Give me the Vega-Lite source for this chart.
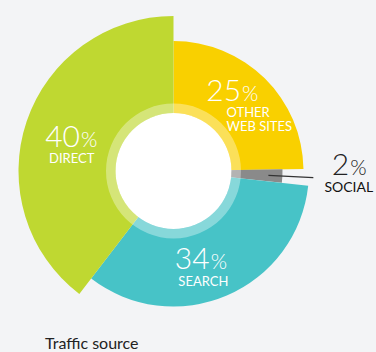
{
  "$schema": "https://vega.github.io/schema/vega-lite/v6.json",
  "width": 347,
  "height": 342,
  "autosize": {"type": "none"},
  "padding": {"left": 0, "top": 0, "right": 29, "bottom": 10},
  "background": "#F3F4F6",
  "config": {"view": {"stroke": null}},
  "title": {
    "text": "Traffic source",
    "orient": "bottom",
    "anchor": "start",
    "frame": "group",
    "baseline": "alphabetic",
    "offset": 1,
    "dx": 45,
    "font": "Lato",
    "fontSize": 16,
    "fontWeight": 400,
    "color": "#222222"
  },
  "data": {
    "values": [
      {"key": "other", "source": "Other web sites", "rank": 1, "value": 25, "name": "OTHER\nWEB SITES"},
      {"key": "social", "source": "Social", "rank": 2, "value": 2, "name": "SOCIAL"},
      {"key": "search", "source": "Search", "rank": 3, "value": 34, "name": "SEARCH"},
      {"key": "direct", "source": "Direct", "rank": 4, "value": 40, "name": "DIRECT"}
    ]
  },
  "layer": [
    {
      "mark": {"type": "arc", "innerRadius": 50},
      "encoding": {
        "theta": {"field": "value", "type": "quantitative", "stack": true},
        "order": {"field": "rank", "type": "quantitative"},
        "radius": {"field": "value", "type": "quantitative", "scale": {"type": "linear", "zero": false, "domain": [2, 25, 34, 40], "range": [109, 130, 135.5, 155]}},
        "color": {"field": "source", "type": "nominal", "legend": null,
          "scale": {"domain": ["Other web sites", "Social", "Search", "Direct"], "range": ["#F9D000", "#8A8A8A", "#47C3C7", "#BFD831"]}}
      }
    },
    {
      "data": {"values": [{}]},
      "mark": {"type": "arc", "theta": 0, "theta2": 6.2832, "radius": 67.5, "radius2": 58, "color": "#FFFFFF", "opacity": 0.35},
      "encoding": {}
    },
    {
      "data": {"values": [{}]},
      "mark": {"type": "arc", "theta": 0, "theta2": 6.2832, "radius": 58, "radius2": 0, "color": "#FFFFFF", "opacity": 1},
      "encoding": {}
    },
    {
      "mark": {"type": "arc", "radius": 140, "radius2": 95, "padAngle": 1, "fill": "transparent", "stroke": "#333333", "strokeWidth": 1.2},
      "encoding": {
        "theta": {"field": "value", "type": "quantitative", "stack": true},
        "order": {"field": "rank", "type": "quantitative"},
        "detail": {"field": "key"},
        "strokeOpacity": {"condition": {"test": {"field": "key", "equal": "social"}, "value": 1}, "value": 0}
      }
    },
    {
      "mark": {"type": "text", "radius": 100, "align": "right", "baseline": "alphabetic", "dx": -2.6, "dy": 1, "font": "Lato", "fontSize": 30, "fontWeight": 300, "color": "#FFFFFF"},
      "encoding": {
        "theta": {"field": "value", "type": "quantitative", "stack": true},
        "order": {"field": "rank", "type": "quantitative"},
        "detail": {"field": "key"},
        "text": {"condition": {"test": {"field": "key", "equal": "other"}, "field": "value", "type": "quantitative"}, "value": ""}
      }
    },
    {
      "mark": {"type": "text", "radius": 100, "align": "left", "baseline": "alphabetic", "dx": -1.6, "dy": 1, "font": "Lato", "fontSize": 21, "fontWeight": 300, "color": "#FFFFFF"},
      "encoding": {
        "theta": {"field": "value", "type": "quantitative", "stack": true},
        "order": {"field": "rank", "type": "quantitative"},
        "detail": {"field": "key"},
        "text": {"condition": {"test": {"field": "key", "equal": "other"}, "value": "%"}, "value": ""}
      }
    },
    {
      "mark": {"type": "text", "radius": 100, "align": "left", "baseline": "alphabetic", "dx": -17.2, "dy": 17.4, "lineBreak": "\n", "lineHeight": 13.8, "font": "Lato", "fontSize": 13, "fontWeight": 400, "color": "#FFFFFF"},
      "encoding": {
        "theta": {"field": "value", "type": "quantitative", "stack": true},
        "order": {"field": "rank", "type": "quantitative"},
        "detail": {"field": "key"},
        "text": {"condition": {"test": {"field": "key", "equal": "other"}, "field": "name", "type": "nominal"}, "value": ""}
      }
    },
    {
      "mark": {"type": "text", "radius": 100, "align": "right", "baseline": "alphabetic", "dx": -3.2, "dy": 6.4, "font": "Lato", "fontSize": 30, "fontWeight": 300, "color": "#FFFFFF"},
      "encoding": {
        "theta": {"field": "value", "type": "quantitative", "stack": true},
        "order": {"field": "rank", "type": "quantitative"},
        "detail": {"field": "key"},
        "text": {"condition": {"test": {"field": "key", "equal": "search"}, "field": "value", "type": "quantitative"}, "value": ""}
      }
    },
    {
      "mark": {"type": "text", "radius": 100, "align": "left", "baseline": "alphabetic", "dx": -2.2, "dy": 6.4, "font": "Lato", "fontSize": 21, "fontWeight": 300, "color": "#FFFFFF"},
      "encoding": {
        "theta": {"field": "value", "type": "quantitative", "stack": true},
        "order": {"field": "rank", "type": "quantitative"},
        "detail": {"field": "key"},
        "text": {"condition": {"test": {"field": "key", "equal": "search"}, "value": "%"}, "value": ""}
      }
    },
    {
      "mark": {"type": "text", "radius": 100, "align": "center", "baseline": "alphabetic", "dx": -9.5, "dy": 23.1, "font": "Lato", "fontSize": 13, "fontWeight": 400, "color": "#FFFFFF"},
      "encoding": {
        "theta": {"field": "value", "type": "quantitative", "stack": true},
        "order": {"field": "rank", "type": "quantitative"},
        "detail": {"field": "key"},
        "text": {"condition": {"test": {"field": "key", "equal": "search"}, "field": "name", "type": "nominal"}, "value": ""}
      }
    },
    {
      "mark": {"type": "text", "radius": 100, "align": "right", "baseline": "alphabetic", "dx": 1.2, "dy": 7.6, "font": "Lato", "fontSize": 30, "fontWeight": 300, "color": "#FFFFFF"},
      "encoding": {
        "theta": {"field": "value", "type": "quantitative", "stack": true},
        "order": {"field": "rank", "type": "quantitative"},
        "detail": {"field": "key"},
        "text": {"condition": {"test": {"field": "key", "equal": "direct"}, "field": "value", "type": "quantitative"}, "value": ""}
      }
    },
    {
      "mark": {"type": "text", "radius": 100, "align": "left", "baseline": "alphabetic", "dx": 2.2, "dy": 7.6, "font": "Lato", "fontSize": 21, "fontWeight": 300, "color": "#FFFFFF"},
      "encoding": {
        "theta": {"field": "value", "type": "quantitative", "stack": true},
        "order": {"field": "rank", "type": "quantitative"},
        "detail": {"field": "key"},
        "text": {"condition": {"test": {"field": "key", "equal": "direct"}, "value": "%"}, "value": ""}
      }
    },
    {
      "mark": {"type": "text", "radius": 100, "align": "center", "baseline": "alphabetic", "dx": -7.1, "dy": 24.4, "font": "Lato", "fontSize": 13, "fontWeight": 400, "color": "#FFFFFF"},
      "encoding": {
        "theta": {"field": "value", "type": "quantitative", "stack": true},
        "order": {"field": "rank", "type": "quantitative"},
        "detail": {"field": "key"},
        "text": {"condition": {"test": {"field": "key", "equal": "direct"}, "field": "name", "type": "nominal"}, "value": ""}
      }
    },
    {
      "mark": {"type": "text", "radius": 176, "align": "right", "baseline": "alphabetic", "dx": -0.1, "dy": -4.2, "font": "Lato", "fontSize": 30, "fontWeight": 300, "color": "#222222"},
      "encoding": {
        "theta": {"field": "value", "type": "quantitative", "stack": true},
        "order": {"field": "rank", "type": "quantitative"},
        "detail": {"field": "key"},
        "text": {"condition": {"test": {"field": "key", "equal": "social"}, "field": "value", "type": "quantitative"}, "value": ""}
      }
    },
    {
      "mark": {"type": "text", "radius": 176, "align": "left", "baseline": "alphabetic", "dx": 0.9, "dy": -4.2, "font": "Lato", "fontSize": 21, "fontWeight": 300, "color": "#222222"},
      "encoding": {
        "theta": {"field": "value", "type": "quantitative", "stack": true},
        "order": {"field": "rank", "type": "quantitative"},
        "detail": {"field": "key"},
        "text": {"condition": {"test": {"field": "key", "equal": "social"}, "value": "%"}, "value": ""}
      }
    },
    {
      "mark": {"type": "text", "radius": 176, "align": "center", "baseline": "alphabetic", "dx": -0.5, "dy": 12.5, "font": "Lato", "fontSize": 14, "fontWeight": 400, "color": "#111111"},
      "encoding": {
        "theta": {"field": "value", "type": "quantitative", "stack": true},
        "order": {"field": "rank", "type": "quantitative"},
        "detail": {"field": "key"},
        "text": {"condition": {"test": {"field": "key", "equal": "social"}, "field": "name", "type": "nominal"}, "value": ""}
      }
    }
  ]
}
